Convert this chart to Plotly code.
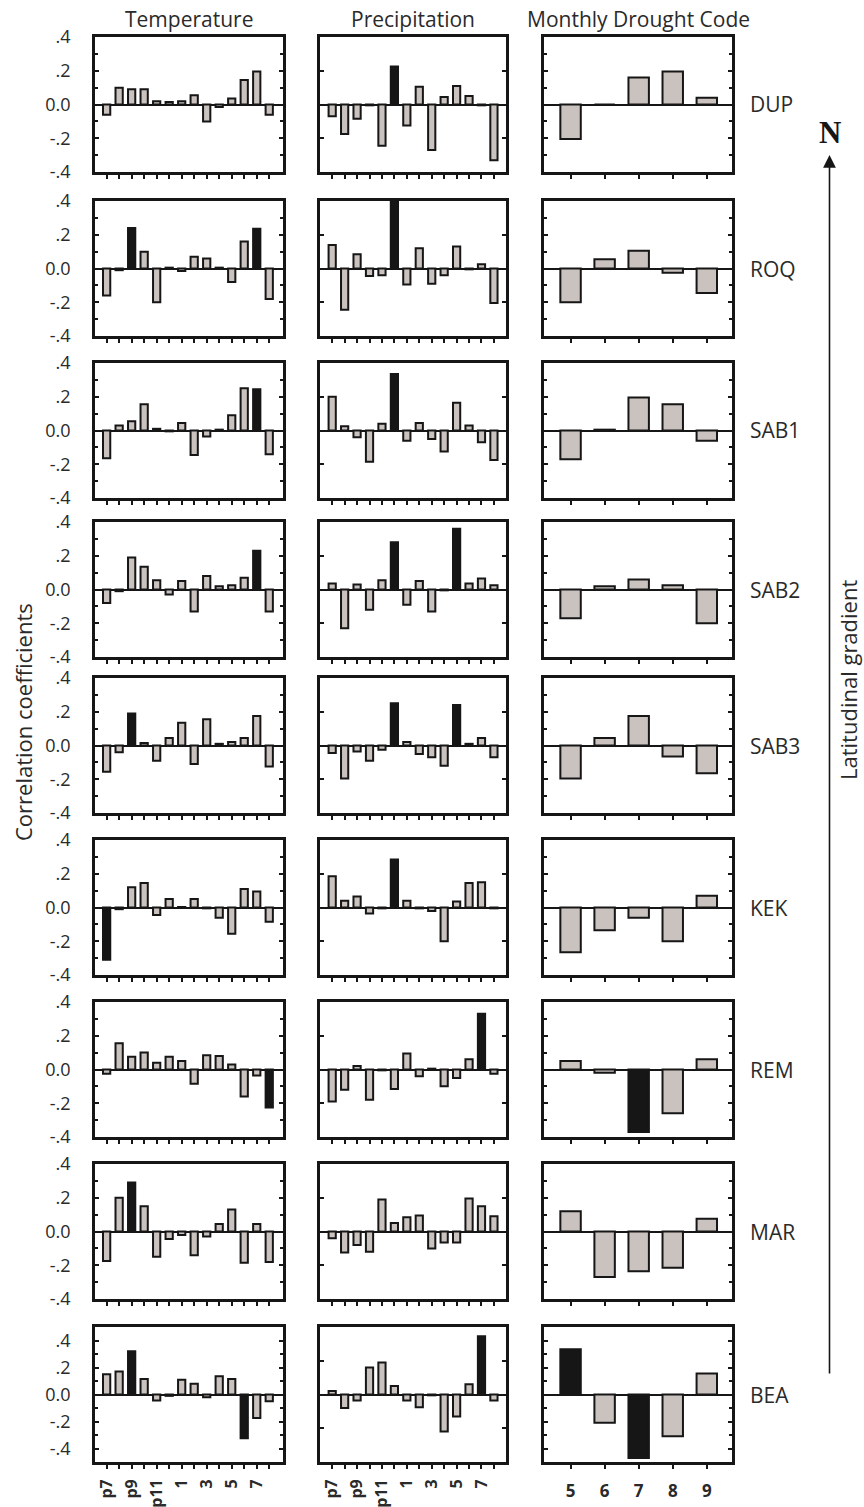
import plotly.graph_objects as go

# ---------------- data ----------------
sites = ["DUP", "ROQ", "SAB1", "SAB2", "SAB3", "KEK", "REM", "MAR", "BEA"]
months = ["p7", "p8", "p9", "p10", "p11", "p12", "1", "2", "3", "4", "5", "6", "7", "8"]
month_tick_text = ["p7", "", "p9", "", "p11", "", "1", "", "3", "", "5", "", "7", ""]
dc_months = ["5", "6", "7", "8", "9"]
column_titles = ["Temperature", "Precipitation", "Monthly Drought Code"]
y_tick_vals = [-0.4, -0.2, 0.0, 0.2, 0.4]
y_tick_text = ["-.4", "-.2", "0.0", ".2", ".4"]

temperature = {
    "DUP":  [-0.06, 0.10, 0.09, 0.09, 0.02, 0.015, 0.02, 0.055, -0.10, -0.015, 0.035, 0.145, 0.195, -0.06],
    "ROQ":  [-0.16, -0.01, 0.24, 0.10, -0.20, 0.005, -0.015, 0.07, 0.06, 0.005, -0.08, 0.16, 0.235, -0.18],
    "SAB1": [-0.165, 0.03, 0.055, 0.155, 0.01, -0.005, 0.045, -0.145, -0.035, 0.005, 0.09, 0.25, 0.245, -0.14],
    "SAB2": [-0.08, -0.01, 0.19, 0.135, 0.055, -0.03, 0.05, -0.13, 0.08, 0.02, 0.025, 0.07, 0.23, -0.13],
    "SAB3": [-0.155, -0.04, 0.19, 0.015, -0.09, 0.045, 0.135, -0.11, 0.155, 0.01, 0.02, 0.045, 0.175, -0.125],
    "KEK":  [-0.31, -0.01, 0.12, 0.145, -0.045, 0.05, 0.003, 0.05, -0.005, -0.06, -0.155, 0.11, 0.095, -0.085],
    "REM":  [-0.025, 0.155, 0.075, 0.10, 0.04, 0.075, 0.05, -0.085, 0.085, 0.08, 0.03, -0.16, -0.035, -0.225],
    "MAR":  [-0.175, 0.20, 0.29, 0.15, -0.15, -0.045, -0.02, -0.14, -0.03, 0.045, 0.13, -0.185, 0.045, -0.18],
    "BEA":  [0.15, 0.17, 0.32, 0.115, -0.045, -0.01, 0.11, 0.08, -0.02, 0.135, 0.115, -0.325, -0.175, -0.05],
}

precipitation = {
    "DUP":  [-0.07, -0.175, -0.085, -0.005, -0.245, 0.225, -0.125, 0.105, -0.27, 0.045, 0.11, 0.05, -0.005, -0.33],
    "ROQ":  [0.14, -0.245, 0.085, -0.045, -0.04, 0.42, -0.095, 0.12, -0.09, -0.04, 0.13, -0.005, 0.025, -0.205],
    "SAB1": [0.20, 0.025, -0.04, -0.185, 0.04, 0.335, -0.06, 0.045, -0.05, -0.125, 0.165, 0.03, -0.07, -0.175],
    "SAB2": [0.035, -0.23, 0.03, -0.12, 0.055, 0.28, -0.09, 0.05, -0.13, -0.005, 0.36, 0.035, 0.065, 0.025],
    "SAB3": [-0.045, -0.195, -0.035, -0.09, -0.025, 0.25, 0.02, -0.05, -0.07, -0.12, 0.24, 0.01, 0.045, -0.07],
    "KEK":  [0.185, 0.04, 0.065, -0.035, -0.005, 0.285, 0.04, -0.005, -0.02, -0.20, 0.035, 0.145, 0.15, -0.005],
    "REM":  [-0.19, -0.12, 0.02, -0.18, -0.005, -0.115, 0.095, -0.04, 0.005, -0.10, -0.05, 0.06, 0.33, -0.025],
    "MAR":  [-0.04, -0.125, -0.08, -0.12, 0.19, 0.05, 0.085, 0.095, -0.10, -0.065, -0.065, 0.195, 0.15, 0.09],
    "BEA":  [0.02, -0.08, -0.035, 0.16, 0.19, 0.05, -0.035, -0.075, -0.005, -0.22, -0.13, 0.06, 0.345, -0.035],
}

drought_code = {
    "DUP":  [-0.205, 0.0, 0.16, 0.195, 0.04],
    "ROQ":  [-0.20, 0.055, 0.105, -0.025, -0.145],
    "SAB1": [-0.17, 0.005, 0.195, 0.155, -0.06],
    "SAB2": [-0.17, 0.02, 0.06, 0.025, -0.20],
    "SAB3": [-0.195, 0.045, 0.175, -0.065, -0.165],
    "KEK":  [-0.265, -0.135, -0.06, -0.20, 0.07],
    "REM":  [0.05, -0.02, -0.37, -0.26, 0.06],
    "MAR":  [0.12, -0.27, -0.235, -0.215, 0.075],
    "BEA":  [0.335, -0.21, -0.47, -0.31, 0.155],
}

# significant (black) bars
sig_temperature = {"ROQ": ["p9", "7"], "SAB1": ["7"], "SAB2": ["7"], "SAB3": ["p9"],
                   "KEK": ["p7"], "REM": ["8"], "MAR": ["p9"], "BEA": ["p9", "6"]}
sig_precipitation = {"DUP": ["p12"], "ROQ": ["p12"], "SAB1": ["p12"], "SAB2": ["p12", "5"],
                     "SAB3": ["p12", "5"], "KEK": ["p12"], "REM": ["7"], "BEA": ["7"]}
sig_drought_code = {"REM": ["7"], "BEA": ["5", "7"]}

# y-axis half range per row (last row uses a wider scale for temperature & drought code)
y_limit = {"temp": [0.4] * 8 + [0.5], "prec": [0.4] * 9, "dc": [0.4] * 8 + [0.5]}

# ---------------- layout geometry (pixels) ----------------
W, H = 864, 1507
row_tops = [37, 201, 363, 522, 678, 840, 1002, 1164, 1327]
panel_h = 135
col_x = [(95, 283), (320, 506), (544, 732)]
x_ranges = [[-0.93, 14.1], [-0.98, 13.97], [-0.78, 4.74]]

GRAY = "#c9c2be"
BLACK = "#161616"
TXT = "#2a2a2a"
FONT = "Open Sans"

fig = go.Figure()
layout = {}

variables = [(temperature, sig_temperature, months, "temp"),
             (precipitation, sig_precipitation, months, "prec"),
             (drought_code, sig_drought_code, dc_months, "dc")]

for r, site in enumerate(sites):
    top = row_tops[r]
    ydom = [1 - (top + panel_h) / H, 1 - top / H]
    for c, (data, sig, cats, key) in enumerate(variables):
        n = r * 3 + c + 1
        xs = "x" if n == 1 else f"x{n}"
        ys = "y" if n == 1 else f"y{n}"
        vals = data[site]
        sigs = sig.get(site, [])
        colors = [BLACK if m in sigs else GRAY for m in cats]
        fig.add_trace(go.Bar(
            x=cats, y=vals, xaxis=xs, yaxis=ys,
            width=0.58 if c < 2 else 0.6,
            marker=dict(color=colors, line=dict(color=BLACK, width=2)),
            showlegend=False, hoverinfo="x+y",
        ))
        lim = y_limit[key][r]
        x0, x1 = col_x[c]
        last_row = (r == len(sites) - 1)
        xa = dict(
            domain=[x0 / W, x1 / W], anchor=ys, type="category", automargin=False,
            range=x_ranges[c], showline=True, linecolor=BLACK, linewidth=2.7,
            mirror=True, ticks="outside", ticklen=4, tickwidth=2, tickcolor=BLACK,
            showgrid=False, zeroline=False, fixedrange=True,
            tickmode="array", tickvals=cats,
            ticktext=(month_tick_text if c < 2 else cats),
            showticklabels=last_row,
            tickfont=dict(family=FONT, size=(16 if c < 2 else 17), color=TXT, weight="bold"),
            tickangle=(-90 if c < 2 else 0),
            ticklabelstandoff=(4 if c < 2 else 8),
        )
        ya = dict(
            domain=ydom, anchor=xs, range=[-lim, lim], automargin=False,
            showline=True, linecolor=BLACK, linewidth=2.7, mirror="ticks",
            ticks="inside", ticklen=4, tickwidth=2, tickcolor=BLACK,
            tickmode="array", tickvals=y_tick_vals, ticktext=y_tick_text,
            showticklabels=(c == 0),
            tickfont=dict(family=FONT, size=18, color=TXT),
            ticklabelstandoff=18,
            showgrid=False, zeroline=True, zerolinecolor=BLACK, zerolinewidth=2,
            fixedrange=True,
        )
        if c != 1:
            ya["minor"] = dict(dtick=0.1, tick0=0, ticks="inside", ticklen=3,
                               tickwidth=1.5, tickcolor=BLACK, showgrid=False)
        layout["xaxis" if n == 1 else f"xaxis{n}"] = xa
        layout["yaxis" if n == 1 else f"yaxis{n}"] = ya

annotations = []
# column titles
for c, title in enumerate(column_titles):
    x0, x1 = col_x[c]
    annotations.append(dict(text=title, x=(x0 + x1) / 2 / W, y=1 - 19 / H,
                            xref="paper", yref="paper", showarrow=False,
                            xanchor="center", yanchor="middle",
                            font=dict(family=FONT, size=21, color=TXT)))
# site labels
for r, site in enumerate(sites):
    zero_y = row_tops[r] + panel_h / 2
    annotations.append(dict(text=site, x=748 / W, y=1 - zero_y / H,
                            xref="paper", yref="paper", showarrow=False,
                            xanchor="left", yanchor="middle",
                            font=dict(family=FONT, size=21, color=TXT)))
# y axis title
annotations.append(dict(text="Correlation coefficients", x=23 / W, y=1 - 722 / H,
                        xref="paper", yref="paper", showarrow=False, textangle=-90,
                        xanchor="center", yanchor="middle",
                        font=dict(family=FONT, size=22, color=TXT)))
# latitudinal gradient
annotations.append(dict(text="Latitudinal gradient", x=848 / W, y=1 - 680 / H,
                        xref="paper", yref="paper", showarrow=False, textangle=-90,
                        xanchor="center", yanchor="middle",
                        font=dict(family=FONT, size=22, color=TXT)))
# north arrow
annotations.append(dict(text="", x=829.5 / W, y=1 - 155 / H, xref="paper", yref="paper",
                        ax=0, ay=1375 - 155, showarrow=True, arrowhead=2,
                        arrowsize=1.6, arrowwidth=1.6, arrowcolor=BLACK))
annotations.append(dict(text="<b>N</b>", x=829.5 / W, y=1 - 133 / H,
                        xref="paper", yref="paper", showarrow=False,
                        xanchor="center", yanchor="middle",
                        font=dict(family="Liberation Serif", size=31, color=BLACK)))

fig.update_layout(
    width=W, height=H, autosize=False,
    margin=dict(l=0, r=0, t=0, b=0, autoexpand=False),
    paper_bgcolor="white", plot_bgcolor="white",
    showlegend=False, bargap=0.3,
    annotations=annotations,
    **layout,
)

# remove the browser's default page margin so the figure sits at the window origin
fig.write_html("out.html",
               config={"displayModeBar": False},
               post_script="document.body.style.margin='0';document.body.style.padding='0';")
